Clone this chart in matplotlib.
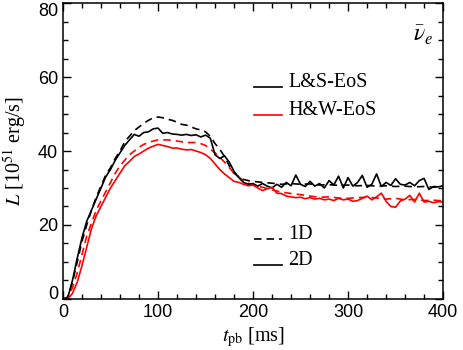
import matplotlib
matplotlib.use('Agg')
import matplotlib.pyplot as plt
import numpy as np
from matplotlib.lines import Line2D
from matplotlib.legend_handler import HandlerLine2D
from matplotlib.ticker import MultipleLocator

# time grid of the 2D runs (ms), 5 ms steps
t2d = np.arange(0, 401, 5)
# 2D, L&S EoS
ls_2d = [0, 0.3, 5, 11, 16.5, 21, 24, 27, 30, 33,
         35, 37.5, 39.5, 41.5, 43, 44.5, 44, 45, 45.2, 46,
         46.2, 44.8, 45, 44.6, 44.5, 44.3, 44.5, 44.2, 44.4, 43.8,
         44.3, 43.5, 39, 38, 38.7, 37, 34.5, 32.8, 31.5, 31,
         31.2, 30.5, 31.2, 30.5, 30, 31, 30.2, 31.5, 30.6, 33.5,
         31, 30.4, 31.8, 30.5, 31.2, 30, 32, 30.8, 33.2, 30,
         32.8, 30.5, 31.5, 33.4, 30.2, 31, 33.8, 30.4, 31.5, 30.7,
         32.5, 31, 30.8, 31.5, 30.6, 32, 32.6, 29.6, 30.4, 30.3,
         30.6]
# 2D, H&W EoS
hw_2d = [0, 0, 1.5, 4.5, 9, 14, 19, 22.5, 25, 27.5,
         30, 32, 34, 36, 37.2, 38.5, 39.2, 40, 40.8, 41.3,
         41.8, 41.5, 41.2, 40.8, 40.8, 40.5, 40.3, 40.4, 40, 39.6,
         39, 38, 36.5, 35, 33.8, 32.8, 31.8, 31.5, 31, 30.6,
         30.8, 30, 29.3, 29.8, 30.2, 28.6, 28.5, 27.8, 27.6, 27.4,
         27.5, 27.1, 27.4, 27, 27.2, 26.8, 27, 26.6, 27.2, 26.8,
         27, 26.4, 26.6, 27.2, 27.8, 26.8, 27.6, 28.6, 26.4, 25,
         24.8, 26.5, 27, 28, 26.2, 28.6, 26.2, 26.4, 26, 26.3,
         26.2]

# 1D runs
t1d = [0, 5, 10, 15, 20, 25, 30, 35, 40, 45,
       50, 55, 60, 65, 70, 75, 80, 85, 90, 95,
       100, 105, 110, 115, 120, 125, 130, 135, 140, 145,
       150, 155, 160, 165, 170, 175, 180, 185, 190, 195,
       200, 210, 220, 230, 240, 250, 260, 270, 280, 290,
       300, 310, 320, 330, 340, 350, 360, 370, 380, 390, 400]
ls_1d = [0, 0.5, 4.5, 10, 15.5, 20, 24, 27.5, 30.5, 33.5,
         35.5, 38, 40, 42.5, 44, 45.5, 46.5, 47.5, 48.3, 49,
         49.2, 49, 48.6, 48.3, 47.8, 47.2, 47, 46.5, 46, 45.7,
         45.2, 44, 42, 40.5, 38.5, 36, 34, 33, 32.3, 32,
         31.8, 31.5, 31.3, 31, 31.2, 31, 31.1, 30.8, 30.9, 30.7,
         30.8, 30.6, 30.7, 30.5, 30.6, 30.4, 30.5, 30.3, 30.4, 30.2, 30.5]
hw_1d = [0, 0.3, 3, 7, 12, 17, 20.5, 24, 26.5, 29,
         31.5, 34, 36, 37.5, 39, 40, 41, 41.8, 42.3, 42.7,
         43, 43, 43, 42.9, 42.7, 42.5, 42.3, 42.3, 42.3, 42,
         41.5, 40.5, 39.5, 38.3, 37, 35.5, 34, 33, 32, 31.3,
         30.8, 30.2, 29.5, 28.9, 28.5, 28.2, 27.8, 27.5, 27.6, 27.3,
         27.2, 27.4, 27.5, 27.3, 27, 27.2, 26.8, 26.9, 26.6, 26.7, 26.5]

xticks = [0, 100, 200, 300, 400]
yticks = [0, 20, 40, 60, 80]


class BaselineHandler(HandlerLine2D):
    """legend line sits at the text baseline, like the IDL original"""
    def create_artists(self, legend, orig_handle, xdescent, ydescent,
                       width, height, fontsize, trans):
        return super().create_artists(legend, orig_handle, xdescent,
                                      ydescent + 1.0 * height, width, height,
                                      fontsize, trans)


plt.rcParams['mathtext.fontset'] = 'stix'
serif = 'Liberation Serif'

fig = plt.figure(figsize=(4.63, 3.5), dpi=100)
ax = fig.add_axes([0.136, 0.146, 0.821, 0.845])

lw = 1.2
ax.plot(t1d, ls_1d, color='black', lw=lw, dashes=(4.5, 3))
ax.plot(t1d, hw_1d, color='red', lw=lw, dashes=(4.5, 3))
ax.plot(t2d, ls_2d, color='black', lw=lw)
ax.plot(t2d, hw_2d, color='red', lw=lw)

ax.set_xlim(0, 400)
ax.set_ylim(0, 80)
ax.set_xticks(xticks)
ax.set_yticks(yticks)
ax.xaxis.set_minor_locator(MultipleLocator(20))
ax.yaxis.set_minor_locator(MultipleLocator(5))
ax.tick_params(which='both', direction='in', top=True, right=True, width=1.0,
               labelsize=13, labelfontfamily='Liberation Sans')
ax.tick_params(which='major', length=6)
ax.tick_params(which='minor', length=3.5)
# end labels of the y axis are pushed inside, as in the original
yt = ax.yaxis.get_major_ticks()
yt[0].label1.set_verticalalignment('baseline')
yt[-1].label1.set_verticalalignment('top')
for s in ax.spines.values():
    s.set_linewidth(1.1)

ax.set_xlabel(r'$t_{\rm pb}$ [ms]', family=serif, fontsize=14.5, labelpad=3)
ax.set_ylabel(r'$L$ [10$^{51}$ erg/s]', family=serif, fontsize=14.5)
ax.yaxis.set_label_coords(-0.09, 0.5)

ax.text(0.975, 0.893, r'$\bar{\nu}_e$', transform=ax.transAxes,
        ha='right', va='center', fontsize=17)

hmap = {Line2D: BaselineHandler()}
eos = [Line2D([], [], color='black', lw=lw), Line2D([], [], color='red', lw=lw)]
leg1 = ax.legend(eos, ['L&S-EoS', 'H&W-EoS'], loc='upper left',
                 bbox_to_anchor=(0.455, 0.825), frameon=False,
                 prop={'family': serif, 'size': 14.5}, handlelength=1.4,
                 handletextpad=0.3, labelspacing=0.42, handler_map=hmap)
ax.add_artist(leg1)
dims = [Line2D([], [], color='black', lw=lw, dashes=(4.5, 3)),
        Line2D([], [], color='black', lw=lw)]
ax.legend(dims, ['1D', '2D'], loc='upper left',
          bbox_to_anchor=(0.455, 0.31), frameon=False,
          prop={'family': serif, 'size': 14.5}, handlelength=1.4,
          handletextpad=0.3, labelspacing=0.3, handler_map=hmap)

fig.savefig('out.png', dpi=100)
